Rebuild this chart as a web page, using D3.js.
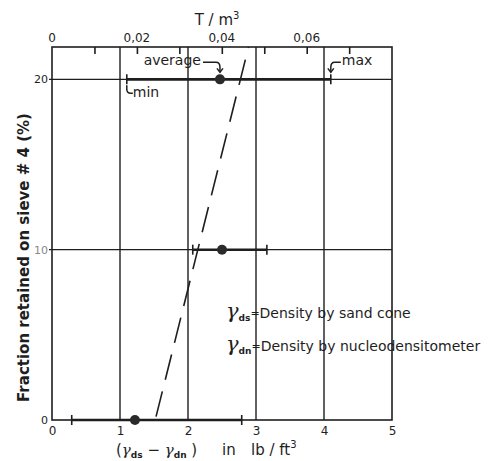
<!DOCTYPE html>
<html>
<head>
<meta charset="utf-8">
<script src="https://cdn.jsdelivr.net/npm/d3@7"></script>
<style>
  body { margin: 0; background: #fff; }
  svg { font-family: "DejaVu Sans", sans-serif; }
</style>
</head>
<body>
<script>
// y categories: fraction retained on sieve #4 (%)
const fractions = [0, 10, 20];
// (γds - γdn) in lb/ft3
const minValues = [0.29, 2.07, 1.1];
const avgValues = [1.22, 2.5, 2.47];
const maxValues = [2.79, 3.16, 4.1];
// dashed trend line endpoints [x, y]
const trend = [[1.53, 0.2], [2.89, 21.9]];
const xTicks = [0, 1, 2, 3, 4, 5];
const yTicks = [0, 10, 20];
const topTicks = [0.01, 0.02, 0.03, 0.04, 0.05, 0.06, 0.07];
const topLabels = [0, 0.02, 0.04, 0.06];
const LB_TO_T = 0.016018; // 1 lb/ft3 in T/m3

const width = 494, height = 461;
const mLeft = 52, mRight = 392, mTop = 47, mBottom = 420;
const ink = "#1e1e1e";

const svg = d3.select("body").append("svg")
  .attr("width", width).attr("height", height);

const x = d3.scaleLinear().domain([0, 5]).range([mLeft, mRight]);
const y = d3.scaleLinear().domain([0, 21.9]).range([mBottom, mTop]);
const xTop = d3.scaleLinear().domain([0, 5 * LB_TO_T]).range([mLeft, mRight]);

// grid
svg.append("g").selectAll("line").data([1, 2, 3, 4]).join("line")
  .attr("x1", d => x(d)).attr("x2", d => x(d))
  .attr("y1", mTop).attr("y2", mBottom)
  .attr("stroke", ink).attr("stroke-width", 1.4);
svg.append("g").selectAll("line").data([10, 20]).join("line")
  .attr("x1", mLeft - 3).attr("x2", mRight)
  .attr("y1", d => y(d)).attr("y2", d => y(d))
  .attr("stroke", ink).attr("stroke-width", 1.3);

// frame
svg.append("rect")
  .attr("x", mLeft).attr("y", mTop)
  .attr("width", mRight - mLeft).attr("height", mBottom - mTop)
  .attr("fill", "none").attr("stroke", ink).attr("stroke-width", 1.6);

// bottom axis
const bottomAxis = svg.append("g")
  .attr("transform", `translate(0,${mBottom})`)
  .call(d3.axisBottom(x).tickValues(xTicks).tickSize(0).tickPadding(6).tickFormat(d3.format("d")));
bottomAxis.select(".domain").remove();
bottomAxis.selectAll("text").attr("font-size", 12).attr("fill", ink)
  .attr("font-family", "DejaVu Sans");

// left axis
const leftAxis = svg.append("g")
  .attr("transform", `translate(${mLeft},0)`)
  .call(d3.axisLeft(y).tickValues(yTicks).tickSize(0).tickPadding(4).tickFormat(d3.format("d")));
leftAxis.select(".domain").remove();
leftAxis.selectAll("text").attr("font-size", 11).attr("fill", ink)
  .attr("font-family", "DejaVu Sans");
leftAxis.selectAll("text").filter(d => d === 10).attr("fill", "#888");

// top axis (T/m3), ticks point into the plot
const topAxis = svg.append("g")
  .attr("transform", `translate(0,${mTop})`)
  .call(d3.axisBottom(xTop).tickValues(topTicks).tickSize(7).tickFormat(""));
topAxis.select(".domain").remove();
topAxis.selectAll("line").attr("stroke", ink).attr("stroke-width", 1.6);
svg.append("g").selectAll("text").data(topLabels).join("text")
  .attr("x", d => xTop(d)).attr("y", mTop - 5)
  .attr("text-anchor", "middle").attr("font-size", 12).attr("fill", ink)
  .text(d => d === 0 ? "0" : d3.format(".2f")(d).replace(".", ","));

// dashed trend line
svg.append("line")
  .attr("x1", x(trend[0][0])).attr("y1", y(trend[0][1]))
  .attr("x2", x(trend[1][0])).attr("y2", y(trend[1][1]))
  .attr("stroke", ink).attr("stroke-width", 1.6)
  .attr("stroke-dasharray", "26,12");

// range bars
const rows = fractions.map((f, i) => ({ f, min: minValues[i], avg: avgValues[i], max: maxValues[i] }));
const bars = svg.append("g");
bars.selectAll(".range").data(rows).join("line")
  .attr("x1", d => x(d.min)).attr("x2", d => x(d.max))
  .attr("y1", d => y(d.f)).attr("y2", d => y(d.f))
  .attr("stroke", ink).attr("stroke-width", 2.6);
bars.selectAll(".lo").data(rows).join("line")
  .attr("x1", d => x(d.min)).attr("x2", d => x(d.min))
  .attr("y1", d => y(d.f) - 5).attr("y2", d => y(d.f) + 5)
  .attr("stroke", ink).attr("stroke-width", 1.6);
bars.selectAll(".hi").data(rows).join("line")
  .attr("x1", d => x(d.max)).attr("x2", d => x(d.max))
  .attr("y1", d => y(d.f) - 5).attr("y2", d => y(d.f) + 5)
  .attr("stroke", ink).attr("stroke-width", 1.6);
bars.selectAll("circle").data(rows).join("circle")
  .attr("cx", d => x(d.avg)).attr("cy", d => y(d.f)).attr("r", 5)
  .attr("fill", "#2a2a2a");

// annotations for the top row
const r20 = rows[2];
const ay = y(r20.f);
const ann = svg.append("g").attr("fill", "none").attr("stroke", ink).attr("stroke-width", 1.5);
const arrow = (x0, y0) => `M${x0 - 3},${y0 - 4}L${x0},${y0}L${x0 + 3},${y0 - 4}`;
ann.append("path").attr("d", `M${x(r20.avg) - 17},${ay - 17} L${x(r20.avg) - 4},${ay - 17} Q${x(r20.avg)},${ay - 17} ${x(r20.avg)},${ay - 12} L${x(r20.avg)},${ay - 7}`);
ann.append("path").attr("d", arrow(x(r20.avg), ay - 7));
ann.append("path").attr("d", `M${x(r20.max) + 10},${ay - 17} L${x(r20.max) + 4},${ay - 17} Q${x(r20.max)},${ay - 17} ${x(r20.max)},${ay - 12} L${x(r20.max)},${ay - 7}`);
ann.append("path").attr("d", arrow(x(r20.max), ay - 7));
ann.append("path").attr("d", `M${x(r20.min)},${ay + 6} L${x(r20.min)},${ay + 10} Q${x(r20.min)},${ay + 14} ${x(r20.min) + 4},${ay + 14} L${x(r20.min) + 6},${ay + 14}`);

const label = (tx, ty, t, size, anchor) => svg.append("text")
  .attr("x", tx).attr("y", ty).attr("font-size", size)
  .attr("text-anchor", anchor || "start").attr("fill", ink).text(t);
label(x(r20.avg) - 19, ay - 14, "average", 14, "end");
label(x(r20.max) + 11, ay - 14, "max", 14);
label(x(r20.min) + 6, ay + 18, "min", 14);

// legend
const legend = (ly, sub, t) => {
  const g = svg.append("text").attr("x", 226).attr("y", ly).attr("fill", ink).attr("font-size", 14);
  g.append("tspan").attr("font-size", 21).attr("font-style", "italic").attr("font-family", "DejaVu Serif").text("γ");
  g.append("tspan").attr("font-size", 9).attr("font-weight", "bold").attr("dy", 3).text(sub);
  g.append("tspan").attr("font-size", 11).attr("dy", -4).text("=");
  g.append("tspan").attr("dy", 1).text(t);
};
legend(318, "ds", "Density  by  sand  cone");
legend(351, "dn", "Density  by nucleodensitometer");

// axis titles
const xt = svg.append("text").attr("x", 116).attr("y", 455).attr("fill", ink).attr("font-size", 15);
xt.append("tspan").text("(");
xt.append("tspan").attr("font-style", "italic").attr("font-family", "DejaVu Serif").text("γ");
xt.append("tspan").attr("font-size", 9).attr("font-weight", "bold").attr("dy", 3).text("ds");
xt.append("tspan").attr("dy", -3).text(" − ");
xt.append("tspan").attr("font-style", "italic").attr("font-family", "DejaVu Serif").text("γ");
xt.append("tspan").attr("font-size", 9).attr("font-weight", "bold").attr("dy", 3).text("dn");
xt.append("tspan").attr("dy", -3).text(" )");
label(222, 455, "in", 15);
const unit = svg.append("text").attr("x", 251).attr("y", 455).attr("fill", ink).attr("font-size", 15);
unit.append("tspan").text("lb / ft");
unit.append("tspan").attr("font-size", 10).attr("dy", -7).text("3");

const tt = svg.append("text").attr("x", 217).attr("y", 25).attr("text-anchor", "middle")
  .attr("fill", ink).attr("font-size", 15);
tt.append("tspan").text("T / m");
tt.append("tspan").attr("font-size", 10).attr("dy", -6).text("3");

svg.append("text")
  .attr("transform", `translate(29,${(mTop + mBottom) / 2 + 24}) rotate(-90)`)
  .attr("text-anchor", "middle").attr("font-size", 15).attr("font-weight", "bold")
  .attr("fill", ink).text("Fraction retained on sieve # 4 (%)");
</script>
</body>
</html>
